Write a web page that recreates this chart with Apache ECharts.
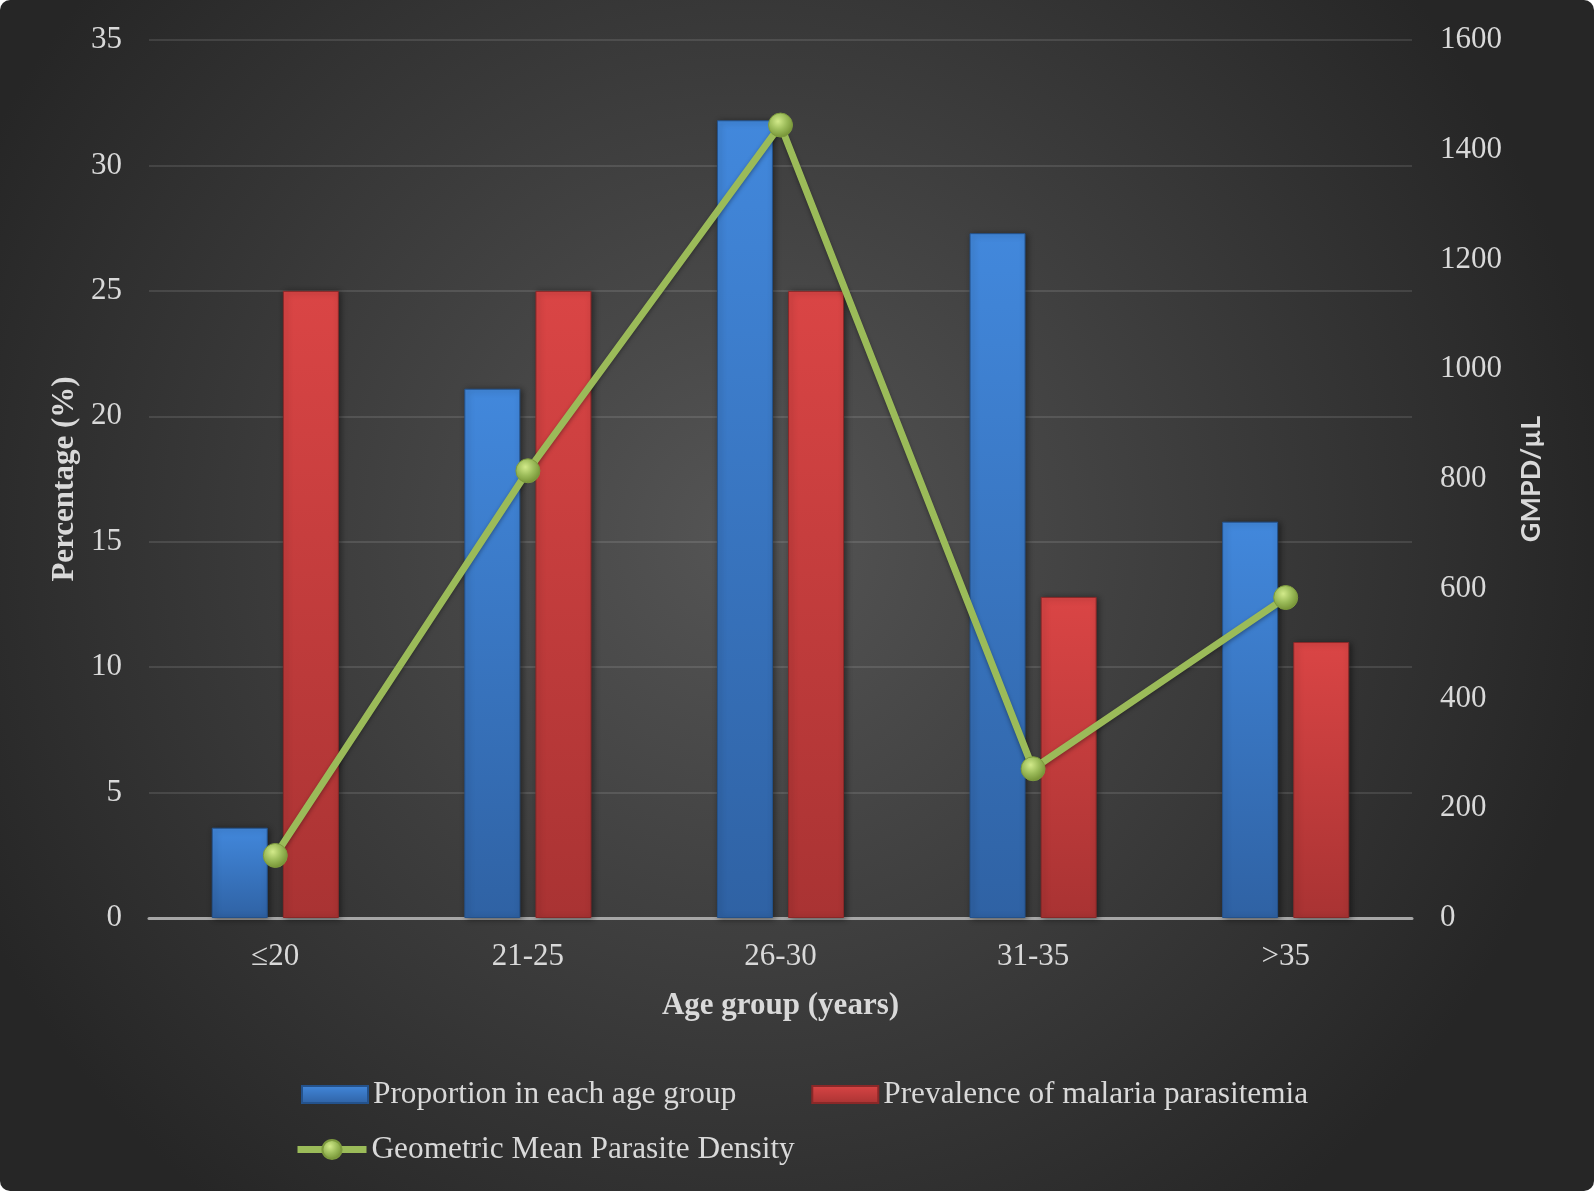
<!DOCTYPE html>
<html>
<head>
<meta charset="utf-8">
<script src="https://cdn.jsdelivr.net/npm/echarts@6/dist/echarts.min.js"></script>
<style>
  html, body { margin: 0; padding: 0; background: #ffffff; }
  #chart { width: 1594px; height: 1191px; border-radius: 10px; overflow: hidden; }
</style>
</head>
<body>
<div id="chart"></div>
<script>
const categories = ['≤20', '21-25', '26-30', '31-35', '>35'];
const proportion = [3.6, 21.1, 31.8, 27.3, 15.8];
const prevalence = [25.0, 25.0, 25.0, 12.8, 11.0];
const gmpd = [114, 815, 1445, 272, 584];
const leftTicks = { min: 0, max: 35, interval: 5 };
const rightTicks = { min: 0, max: 1600, interval: 200 };
const seriesNames = ['Proportion in each age group', 'Prevalence of malaria parasitemia', 'Geometric Mean Parasite Density'];

const serif = 'Liberation Serif';
const textColor = '#d9d9d9';

const chart = echarts.init(document.getElementById('chart'), null, { renderer: 'canvas' });

const blueGrad = new echarts.graphic.LinearGradient(0, 0, 0, 1, [
  { offset: 0, color: '#4288dc' },
  { offset: 1, color: '#2f62a4' }
]);
const redGrad = new echarts.graphic.LinearGradient(0, 0, 0, 1, [
  { offset: 0, color: '#da4545' },
  { offset: 1, color: '#a93333' }
]);
const ballGrad = new echarts.graphic.RadialGradient(0.4, 0.35, 0.7, [
  { offset: 0, color: '#d2ea8a' },
  { offset: 0.5, color: '#9bbb59' },
  { offset: 1, color: '#6f8c30' }
]);

const option = {
  backgroundColor: new echarts.graphic.RadialGradient(0.47, 0.45, 0.72, [
    { offset: 0, color: '#555555' },
    { offset: 1, color: '#262626' }
  ]),
  textStyle: { fontFamily: serif },
  grid: { left: 149, right: 182, top: 40, bottom: 273 },
  legend: [
    {
      data: [seriesNames[0], seriesNames[1]],
      left: 296, top: 1074,
      itemWidth: 66, itemHeight: 17, itemGap: 75,
      textStyle: { color: textColor, fontSize: 31.3, fontFamily: serif },
      icon: 'rect'
    },
    {
      data: [seriesNames[2]],
      left: 289, top: 1129,
      itemWidth: 69, itemHeight: 24,
      lineStyle: { width: 7 },
      textStyle: { color: textColor, fontSize: 31.3, fontFamily: serif }
    }
  ],
  xAxis: {
    type: 'category',
    data: categories,
    name: 'Age group (years)',
    nameLocation: 'middle',
    nameGap: 72,
    nameTextStyle: { color: textColor, fontSize: 31, fontWeight: 'bold', fontFamily: serif },
    axisLine: { lineStyle: { color: '#a6a6a6', width: 3 } },
    axisTick: { show: false },
    axisLabel: { color: textColor, fontSize: 31, fontFamily: serif, margin: 23 }
  },
  yAxis: [
    {
      type: 'value',
      min: leftTicks.min, max: leftTicks.max, interval: leftTicks.interval,
      name: 'Percentage (%)',
      nameLocation: 'middle',
      nameGap: 64,
      nameTextStyle: { color: textColor, fontSize: 31, fontWeight: 'bold', fontFamily: serif },
      axisLine: { show: false },
      axisTick: { show: false },
      axisLabel: { color: textColor, fontSize: 31, fontFamily: serif, margin: 27 },
      splitLine: { lineStyle: { color: 'rgba(255,255,255,0.11)', width: 2 } }
    },
    {
      type: 'value',
      min: rightTicks.min, max: rightTicks.max, interval: rightTicks.interval,
      name: 'GMPD/µL',
      nameLocation: 'middle',
      nameRotate: 90,
      nameGap: 106,
      nameTextStyle: { color: textColor, fontSize: 27, fontWeight: 'bold', fontFamily: 'Lato' },
      axisLine: { show: false },
      axisTick: { show: false },
      axisLabel: { color: textColor, fontSize: 31, fontFamily: serif, margin: 28, formatter: v => String(v) },
      splitLine: { show: false }
    }
  ],
  series: [
    {
      name: seriesNames[0],
      type: 'bar',
      data: proportion,
      barWidth: 56,
      barGap: '27%',
      itemStyle: {
        color: blueGrad,
        borderColor: '#24528c', borderWidth: 1,
        shadowColor: 'rgba(0,0,0,0.45)', shadowBlur: 6, shadowOffsetX: 2, shadowOffsetY: 1
      }
    },
    {
      name: seriesNames[1],
      type: 'bar',
      data: prevalence,
      barWidth: 56,
      barGap: '27%',
      itemStyle: {
        color: redGrad,
        borderColor: '#8a2828', borderWidth: 1,
        shadowColor: 'rgba(0,0,0,0.45)', shadowBlur: 6, shadowOffsetX: 2, shadowOffsetY: 1
      }
    },
    {
      name: seriesNames[2],
      type: 'line',
      yAxisIndex: 1,
      data: gmpd,
      symbol: 'circle',
      symbolSize: 24,
      lineStyle: { color: '#9bbb59', width: 7, shadowColor: 'rgba(0,0,0,0.35)', shadowBlur: 4, shadowOffsetY: 2 },
      itemStyle: { color: ballGrad, borderColor: '#7d9a3e', borderWidth: 1 },
      z: 5
    }
  ]
};

chart.setOption(option);
</script>
</body>
</html>
